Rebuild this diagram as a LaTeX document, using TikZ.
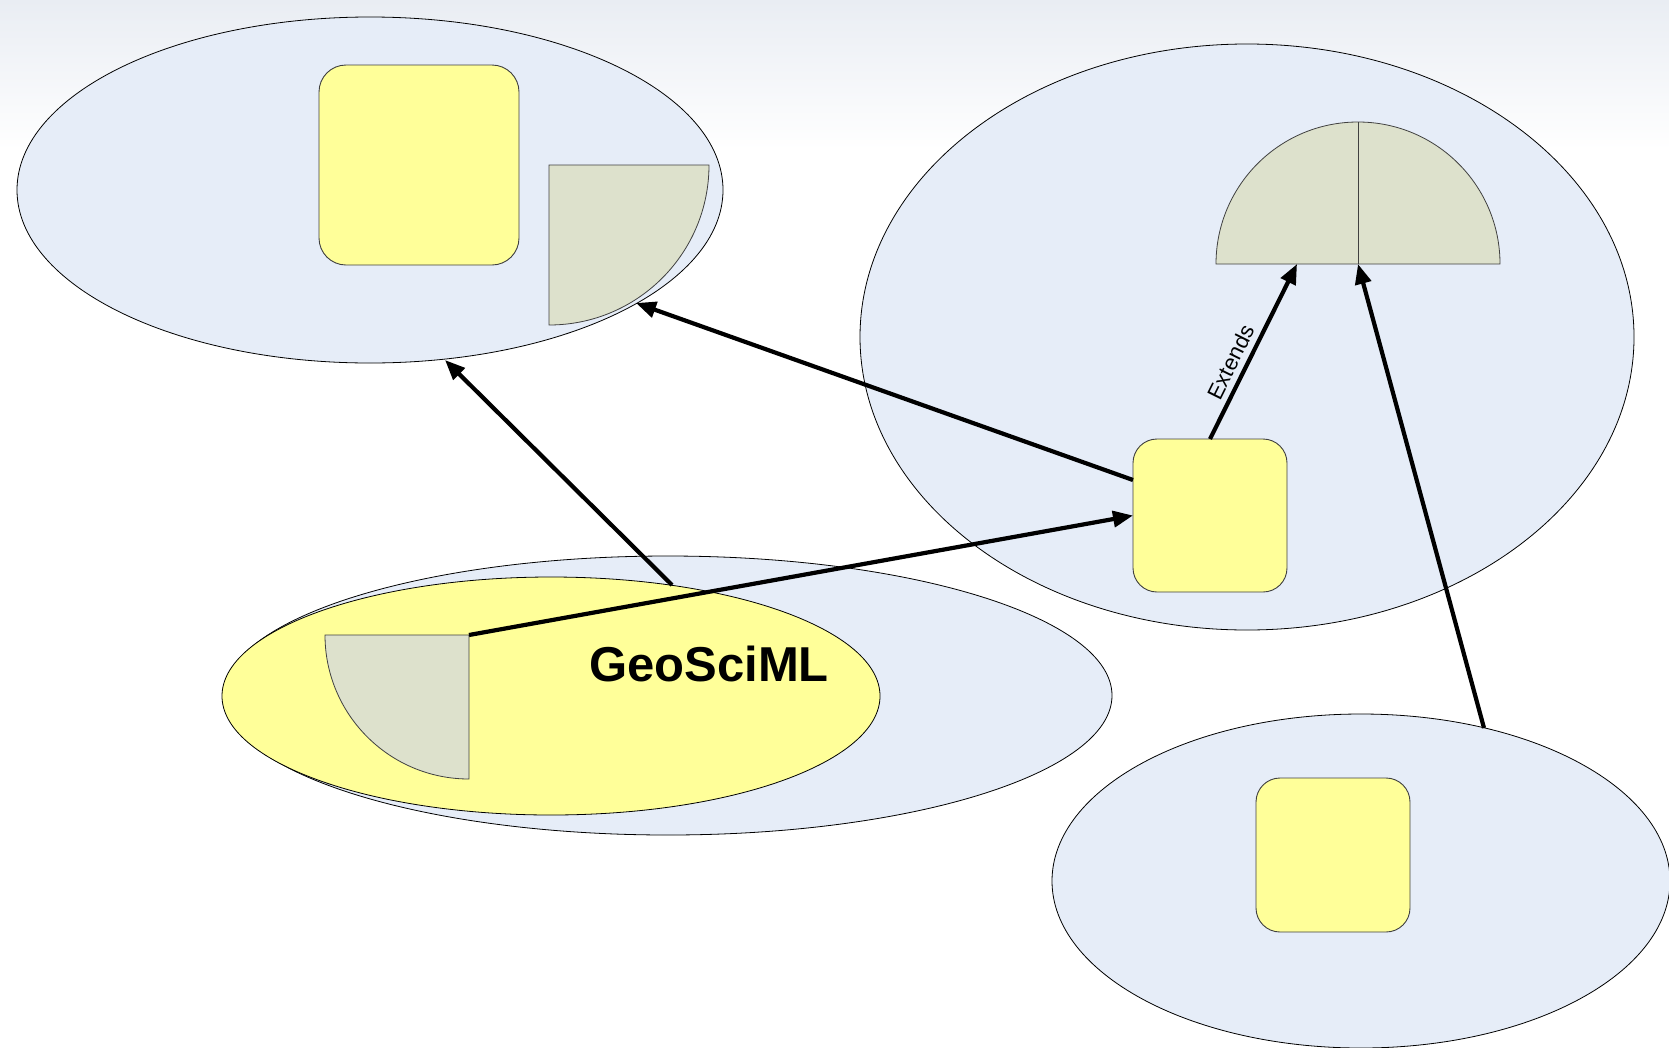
\documentclass[tikz,border=0pt]{standalone}
\usepackage{fontspec}
\setmainfont{Liberation Sans}
\usetikzlibrary{shapes.geometric,arrows.meta}
\definecolor{ellblue}{RGB}{230,237,248}
\definecolor{boxyellow}{RGB}{255,255,153}
\definecolor{wedgegray}{RGB}{221,225,204}
\definecolor{bgtex}{RGB}{233,237,243}
\begin{document}
\begin{tikzpicture}[x=1pt,y=-1pt,
  pkg/.style={ellipse, draw=black, line width=0.8pt, fill=ellblue, inner sep=0pt, outer sep=0pt},
  geoell/.style={ellipse, draw=black, line width=0.8pt, fill=boxyellow, inner sep=0pt, outer sep=0pt},
  cls/.style={rectangle, rounded corners=#1, draw=black!75, line width=0.9pt, fill=boxyellow, inner sep=0pt, outer sep=0pt},
  wedgeshape/.style={draw=black!75, line width=0.8pt, fill=wedgegray},
  dep/.style={line width=4.2pt, -{Triangle[length=20pt,width=16pt]}},
  lbl/.style={font=\fontsize{22}{26}\selectfont}
]
\clip (0,0) rectangle (1669,1047);
\fill[white] (0,0) rectangle (1669,1047);
\shade[top color=bgtex, bottom color=white] (0,0) rectangle (1669,150);

% packages
\node[pkg, minimum width=706pt, minimum height=346pt] (pkgA) at (370,190) {};
\node[pkg, minimum width=774pt, minimum height=586pt] (pkgB) at (1247,337) {};
\node[pkg, minimum width=888pt, minimum height=279pt] (pkgC) at (668,695.5) {};
\node[geoell, minimum width=658pt, minimum height=238pt] (geo) at (551,696) {};
\node[pkg, minimum width=618pt, minimum height=334pt] (pkgD) at (1361,881) {};

% classes
\node[cls=27pt, minimum width=200pt, minimum height=200pt] (clsA) at (419,165) {};
\node[cls=24pt, minimum width=154pt, minimum height=153pt] (clsB) at (1210,515.5) {};
\node[cls=24pt, minimum width=154pt, minimum height=154pt] (clsD) at (1333,855) {};

% wedge in package A
\draw[wedgeshape] (549,165) -- (709,165) .. controls (709,253.4) and (637.4,325) .. (549,325) -- cycle;
\coordinate (wedgeAarc) at (636,303);
% wedge in GeoSciML
\draw[wedgeshape] (469,635) -- (469,779) .. controls (389.5,779) and (325,714.5) .. (325,635) -- cycle;
\coordinate (wedgeGcorner) at (469,635);
% half disc in package B
\draw[wedgeshape] (1216,264) .. controls (1216,185.6) and (1279.6,122) .. (1358,122)
  .. controls (1436.4,122) and (1500,185.6) .. (1500,264) -- cycle;
\draw[black!75, line width=0.8pt] (1358,122) -- (1358,264);
\coordinate (halfL) at (1297,264);
\coordinate (halfM) at (1358,264);

\node[font=\fontsize{49}{56}\selectfont\bfseries, inner sep=0pt] (geolabel) at (709,664) {GeoSciML};

% connector end points
\coordinate (geoTop) at (672,585);
\coordinate (pkgAbottom) at (445,360);
\coordinate (clsBleft) at (1133,480);
\coordinate (pkgDtop) at (1484,728);

\draw[dep] (geoTop) -- (pkgAbottom);
\draw[dep] (wedgeGcorner) -- (clsB.west);
\draw[dep] (clsBleft) -- (wedgeAarc);
\draw[dep] (clsB.north) -- node[lbl, pos=0.40, sloped, above=2pt] {Extends} (halfL);
\draw[dep] (pkgDtop) -- (halfM);
\end{tikzpicture}
\end{document}
